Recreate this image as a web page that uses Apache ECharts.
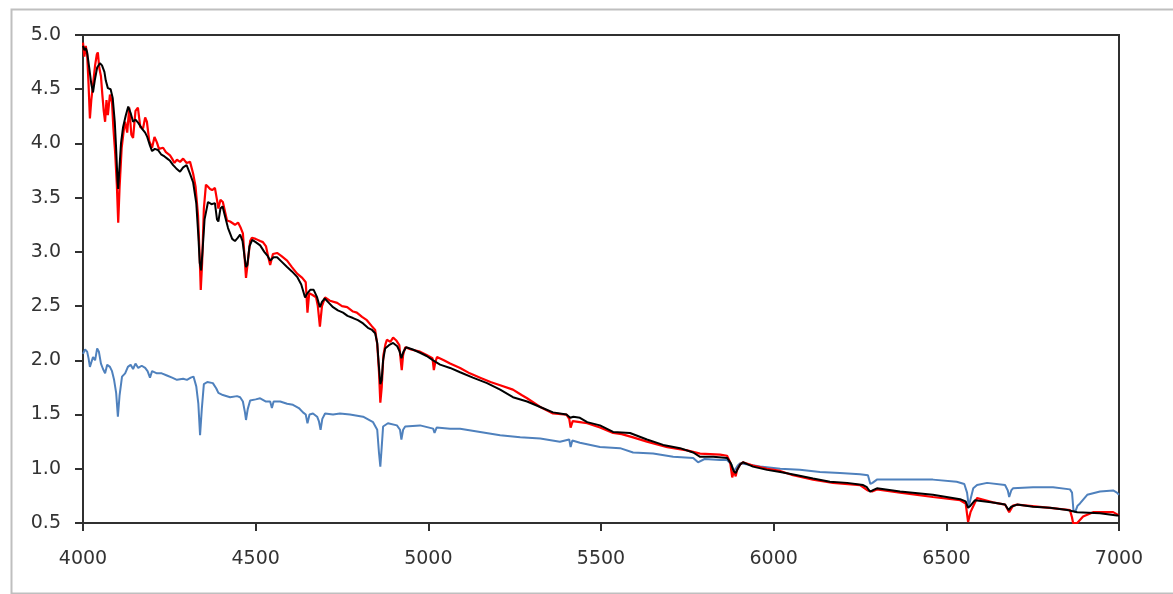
<!DOCTYPE html>
<html>
<head>
<meta charset="utf-8">
<script src="https://cdn.jsdelivr.net/npm/echarts@6/dist/echarts.min.js"></script>
<style>
html, body { margin: 0; padding: 0; background: #fff; }
#count_01 { width: 1173px; height: 594px; }
</style>
</head>
<body>
<div id="count_01"></div>
<script>
// tick labels
var xTicks = [4000, 4500, 5000, 5500, 6000, 6500, 7000];
var yTicks = [0.5, 1.0, 1.5, 2.0, 2.5, 3.0, 3.5, 4.0, 4.5, 5.0];

// observed spectrum (red) [wavelength, flux]
var redData = [
  [4000,4.93],[4004,4.80],[4008,4.90],[4012,4.82],[4016,4.55],[4020,4.23],[4024,4.40],[4029,4.54],
  [4035,4.72],[4040,4.82],[4043,4.84],[4047,4.70],[4052,4.62],[4056,4.45],[4060,4.30],[4064,4.20],
  [4068,4.40],[4072,4.26],[4078,4.45],[4084,4.38],[4088,4.14],[4093,3.92],[4098,3.62],[4102,3.27],
  [4106,3.60],[4112,3.96],[4118,4.12],[4122,4.20],[4128,4.10],[4134,4.33],[4140,4.08],[4145,4.05],
  [4152,4.30],[4159,4.33],[4166,4.15],[4174,4.14],[4180,4.24],[4185,4.20],[4192,4.02],[4200,3.96],
  [4207,4.06],[4214,4.01],[4220,3.95],[4232,3.96],[4240,3.92],[4252,3.89],[4258,3.86],[4265,3.82],
  [4272,3.85],[4281,3.83],[4290,3.86],[4300,3.82],[4310,3.83],[4319,3.72],[4326,3.60],[4333,3.34],
  [4338,2.95],[4341,2.65],[4345,2.90],[4350,3.40],[4356,3.62],[4362,3.60],[4368,3.58],[4374,3.57],
  [4382,3.59],[4388,3.48],[4392,3.40],[4398,3.48],[4405,3.46],[4417,3.29],[4426,3.28],[4440,3.25],
  [4449,3.27],[4457,3.22],[4463,3.17],[4468,2.95],[4472,2.76],[4477,2.90],[4484,3.10],[4489,3.13],
  [4500,3.12],[4513,3.10],[4521,3.09],[4530,3.05],[4536,2.96],[4542,2.88],[4550,2.98],[4562,2.99],
  [4575,2.96],[4591,2.92],[4605,2.86],[4620,2.80],[4635,2.76],[4645,2.72],[4650,2.44],[4655,2.62],
  [4666,2.60],[4675,2.58],[4680,2.50],[4686,2.31],[4692,2.50],[4701,2.58],[4715,2.55],[4736,2.53],
  [4750,2.50],[4765,2.49],[4782,2.45],[4793,2.44],[4808,2.40],[4822,2.37],[4835,2.32],[4846,2.28],
  [4852,2.15],[4857,1.90],[4861,1.61],[4865,1.75],[4870,2.05],[4876,2.15],[4880,2.19],[4890,2.17],
  [4898,2.21],[4908,2.18],[4916,2.14],[4920,2.00],[4923,1.91],[4927,2.05],[4933,2.12],[4950,2.10],
  [4976,2.08],[4995,2.05],[5012,2.02],[5016,1.91],[5020,1.98],[5025,2.03],[5045,2.00],[5063,1.97],
  [5092,1.93],[5120,1.88],[5150,1.84],[5180,1.80],[5208,1.77],[5245,1.73],[5270,1.68],[5286,1.65],
  [5324,1.57],[5361,1.51],[5400,1.50],[5408,1.46],[5412,1.38],[5418,1.44],[5439,1.43],[5460,1.42],
  [5497,1.38],[5535,1.33],[5560,1.32],[5593,1.29],[5633,1.25],[5692,1.20],[5749,1.17],[5787,1.14],
  [5845,1.13],[5865,1.12],[5874,1.06],[5880,0.92],[5885,0.98],[5890,0.93],[5894,0.99],[5903,1.04],
  [5911,1.06],[5940,1.03],[5981,1.00],[6019,0.98],[6056,0.94],[6114,0.90],[6172,0.87],[6250,0.85],
  [6273,0.80],[6285,0.79],[6299,0.81],[6366,0.78],[6461,0.74],[6540,0.71],[6556,0.68],[6563,0.51],
  [6570,0.60],[6589,0.73],[6635,0.69],[6670,0.67],[6682,0.60],[6693,0.66],[6705,0.67],[6800,0.64],
  [6858,0.62],[6864,0.55],[6867,0.50],[6879,0.50],[6896,0.56],[6925,0.60],[6983,0.60],[7000,0.57]
];

// model spectrum (black)
var blackData = [
  [4000,4.90],[4004,4.86],[4008,4.88],[4012,4.84],[4018,4.70],[4024,4.55],[4029,4.47],[4034,4.58],
  [4041,4.70],[4049,4.74],[4055,4.72],[4062,4.66],[4066,4.58],[4072,4.51],[4080,4.50],[4086,4.42],
  [4092,4.20],[4096,3.95],[4100,3.65],[4102,3.58],[4105,3.75],[4110,4.00],[4116,4.15],[4124,4.26],
  [4131,4.34],[4138,4.28],[4145,4.20],[4152,4.22],[4160,4.19],[4170,4.14],[4180,4.10],[4186,4.06],
  [4194,3.98],[4200,3.93],[4208,3.95],[4217,3.94],[4226,3.90],[4236,3.88],[4244,3.86],[4252,3.84],
  [4261,3.80],[4270,3.77],[4281,3.74],[4290,3.78],[4300,3.80],[4310,3.72],[4319,3.64],[4328,3.45],
  [4334,3.15],[4338,2.90],[4342,2.83],[4346,3.00],[4352,3.30],[4362,3.46],[4372,3.44],[4382,3.45],
  [4388,3.30],[4392,3.28],[4398,3.40],[4404,3.42],[4412,3.32],[4420,3.22],[4432,3.12],[4440,3.10],
  [4448,3.13],[4455,3.16],[4462,3.10],[4468,2.95],[4472,2.86],[4476,2.88],[4482,3.05],[4490,3.11],
  [4500,3.09],[4513,3.06],[4525,3.00],[4535,2.96],[4542,2.92],[4552,2.95],[4562,2.95],[4575,2.91],
  [4591,2.86],[4605,2.82],[4620,2.77],[4632,2.70],[4643,2.58],[4650,2.62],[4658,2.65],[4668,2.65],
  [4678,2.58],[4686,2.49],[4692,2.54],[4700,2.57],[4712,2.53],[4724,2.49],[4738,2.46],[4753,2.44],
  [4766,2.41],[4782,2.39],[4796,2.37],[4811,2.34],[4825,2.30],[4837,2.28],[4846,2.25],[4852,2.16],
  [4856,1.98],[4861,1.78],[4865,1.82],[4869,2.00],[4875,2.11],[4886,2.14],[4898,2.16],[4910,2.13],
  [4917,2.08],[4922,2.02],[4928,2.08],[4936,2.12],[4955,2.10],[4976,2.07],[4995,2.04],[5014,2.00],
  [5034,1.96],[5063,1.93],[5092,1.89],[5129,1.84],[5170,1.79],[5208,1.73],[5245,1.66],[5286,1.62],
  [5324,1.57],[5361,1.52],[5400,1.50],[5411,1.47],[5420,1.48],[5439,1.47],[5460,1.43],[5497,1.40],
  [5535,1.34],[5584,1.33],[5633,1.27],[5680,1.22],[5729,1.19],[5767,1.15],[5787,1.11],[5825,1.11],
  [5865,1.10],[5876,1.05],[5884,0.98],[5890,0.96],[5896,1.00],[5903,1.04],[5911,1.06],[5925,1.04],
  [5940,1.02],[5981,0.99],[6019,0.97],[6068,0.94],[6114,0.91],[6163,0.88],[6213,0.87],[6259,0.85],
  [6270,0.83],[6279,0.79],[6286,0.80],[6299,0.82],[6366,0.79],[6461,0.76],[6540,0.72],[6556,0.70],
  [6563,0.64],[6570,0.66],[6583,0.71],[6635,0.69],[6670,0.67],[6680,0.62],[6688,0.65],[6705,0.67],
  [6751,0.65],[6800,0.64],[6850,0.62],[6879,0.60],[6945,0.59],[6994,0.57],[7000,0.57]
];

// second spectrum (blue)
var blueData = [
  [4000,2.06],[4006,2.10],[4012,2.08],[4016,2.02],[4020,1.94],[4024,1.98],[4029,2.03],[4035,2.00],
  [4041,2.11],[4046,2.08],[4052,1.97],[4058,1.92],[4064,1.88],[4070,1.96],[4078,1.94],[4084,1.90],
  [4090,1.82],[4096,1.70],[4101,1.48],[4106,1.68],[4113,1.85],[4122,1.88],[4130,1.94],[4138,1.96],
  [4145,1.92],[4152,1.97],[4160,1.93],[4170,1.95],[4180,1.93],[4187,1.90],[4194,1.84],[4200,1.90],
  [4214,1.88],[4228,1.88],[4243,1.86],[4258,1.84],[4272,1.82],[4290,1.83],[4301,1.82],[4312,1.84],
  [4320,1.85],[4328,1.76],[4334,1.60],[4339,1.31],[4344,1.55],[4350,1.78],[4360,1.80],[4376,1.79],
  [4386,1.74],[4392,1.70],[4405,1.68],[4426,1.66],[4446,1.67],[4455,1.66],[4463,1.62],[4469,1.52],
  [4472,1.45],[4477,1.55],[4484,1.63],[4500,1.64],[4513,1.65],[4530,1.62],[4542,1.62],[4547,1.56],
  [4552,1.62],[4571,1.62],[4591,1.60],[4608,1.59],[4625,1.56],[4637,1.52],[4645,1.50],[4650,1.42],
  [4656,1.50],[4666,1.51],[4678,1.48],[4683,1.44],[4688,1.36],[4693,1.46],[4701,1.51],[4724,1.50],
  [4744,1.51],[4773,1.50],[4811,1.48],[4840,1.43],[4852,1.36],[4857,1.15],[4861,1.02],[4865,1.20],
  [4869,1.39],[4883,1.42],[4909,1.40],[4918,1.36],[4922,1.27],[4927,1.36],[4933,1.39],[4976,1.40],
  [5014,1.37],[5018,1.33],[5024,1.38],[5063,1.37],[5092,1.37],[5150,1.34],[5208,1.31],[5266,1.29],
  [5324,1.28],[5381,1.25],[5408,1.27],[5412,1.20],[5417,1.26],[5439,1.24],[5497,1.20],[5555,1.19],
  [5593,1.15],[5651,1.14],[5709,1.11],[5767,1.10],[5781,1.06],[5800,1.09],[5845,1.08],[5865,1.08],
  [5878,1.04],[5884,0.98],[5890,1.00],[5896,1.03],[5903,1.05],[5961,1.02],[6019,1.00],[6076,0.99],
  [6134,0.97],[6192,0.96],[6250,0.95],[6273,0.94],[6280,0.86],[6286,0.87],[6299,0.90],[6366,0.90],
  [6461,0.90],[6530,0.88],[6552,0.86],[6560,0.78],[6565,0.65],[6570,0.72],[6578,0.82],[6589,0.85],
  [6618,0.87],[6670,0.85],[6678,0.80],[6682,0.74],[6688,0.80],[6693,0.82],[6751,0.83],[6809,0.83],
  [6858,0.81],[6864,0.78],[6868,0.62],[6873,0.60],[6880,0.66],[6887,0.68],[6908,0.76],[6945,0.79],
  [6983,0.80],[6994,0.78],[7000,0.76]
];

var dom_01 = document.getElementById("count_01");
var myChart_01 = echarts.init(dom_01);
var labelFont = {
    color: '#333333',
    fontFamily: 'DejaVu Sans',
    fontSize: 19
};
option_01 = {
    animation: false,
    backgroundColor: '#fff',
    graphic: [{
        type: 'rect',
        left: 9, top: 7,
        shape: { width: 1180, height: 584 },
        style: { fill: 'none', stroke: '#bfbfbf', lineWidth: 2 },
        silent: true
    }],
    grid: {
        left: 83,
        right: 54,
        top: 35,
        bottom: 71,
        show: true,
        borderColor: '#303030',
        borderWidth: 2
    },
    xAxis: {
        type: 'value',
        min: xTicks[0],
        max: xTicks[xTicks.length - 1],
        interval: 500,
        axisLine: { show: true, lineStyle: { color: '#303030', width: 2 } },
        axisTick: { show: true, inside: false, length: 8, lineStyle: { color: '#303030', width: 2 } },
        axisLabel: Object.assign({
            margin: 27,
            formatter: function (v) { return String(v); }
        }, labelFont),
        splitLine: { show: false }
    },
    yAxis: {
        type: 'value',
        min: yTicks[0],
        max: yTicks[yTicks.length - 1],
        interval: 0.5,
        axisLine: { show: true, lineStyle: { color: '#303030', width: 2 } },
        axisTick: { show: true, inside: false, length: 8, lineStyle: { color: '#303030', width: 2 } },
        axisLabel: Object.assign({
            margin: 22,
            formatter: function (v) { return v.toFixed(1); }
        }, labelFont),
        splitLine: { show: false }
    },
    series: [
        {
            name: 'blue',
            type: 'line',
            data: blueData,
            showSymbol: false,
            lineStyle: { color: '#4f81bd', width: 2 },
            z: 2
        },
        {
            name: 'red',
            type: 'line',
            data: redData,
            showSymbol: false,
            lineStyle: { color: '#ff0000', width: 2.2 },
            z: 3
        },
        {
            name: 'black',
            type: 'line',
            data: blackData,
            showSymbol: false,
            lineStyle: { color: '#000000', width: 2 },
            z: 4
        }
    ]
};
if (option_01 && typeof option_01 === "object") {
    myChart_01.setOption(option_01, true);
}
</script>
</body>
</html>
